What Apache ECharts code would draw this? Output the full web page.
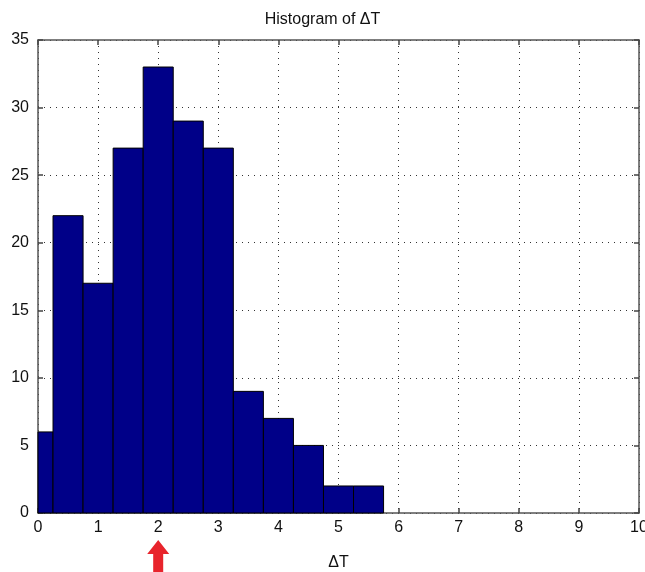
<!DOCTYPE html>
<html><head><meta charset="utf-8">
<script src="https://cdn.jsdelivr.net/npm/echarts@6/dist/echarts.min.js"></script>
<style>html,body{margin:0;padding:0;background:#fff}#c{width:645px;height:572px}</style>
</head><body><div id="c"></div>
<script>
const binCenters = [0, 0.5, 1.0, 1.5, 2.0, 2.5, 3.0, 3.5, 4.0, 4.5, 5.0, 5.5];
const counts = [6, 22, 17, 27, 33, 29, 27, 9, 7, 5, 2, 2];
const binWidth = 0.5;
const arrowAt = 2;
const titleText = 'Histogram of ΔT';
const xName = 'ΔT';

const font = "'Liberation Sans Narrow', 'Liberation Sans', Arial, sans-serif";
const chart = echarts.init(document.getElementById('c'), null, {renderer: 'canvas'});
const grid = {left: 38, right: 6, top: 40, bottom: 59, containLabel: false, outerBoundsMode: 'none'};
const dotted = {show: true, lineStyle: {color: '#333', type: [1, 5], width: 1}};
const tickStyle = {show: true, inside: true, length: 5, lineStyle: {color: '#444', width: 1.5}};
const lineStyle = {show: true, onZero: false, lineStyle: {color: '#555', width: 1.5}};
const labelStyle = {color: '#111', fontSize: 16, fontFamily: font};

chart.setOption({
  animation: false,
  backgroundColor: '#fff',
  title: {text: titleText, left: 'center', top: 7, textStyle: {fontSize: 16, fontWeight: 'normal', color: '#111', fontFamily: font}},
  grid: grid,
  xAxis: [
    {type: 'value', min: 0, max: 10, interval: 1, position: 'bottom',
     name: xName, nameLocation: 'middle', nameGap: 42, nameTextStyle: labelStyle,
     axisLine: lineStyle, axisTick: tickStyle, splitLine: dotted,
     axisLabel: Object.assign({margin: 7}, labelStyle)},
    {type: 'value', min: 0, max: 10, interval: 1, position: 'top',
     axisLine: lineStyle, axisTick: tickStyle, splitLine: {show: false}, axisLabel: {show: false}}
  ],
  yAxis: [
    {type: 'value', min: 0, max: 35, interval: 5, position: 'left',
     axisLine: lineStyle, axisTick: tickStyle, splitLine: dotted,
     axisLabel: Object.assign({margin: 9}, labelStyle)},
    {type: 'value', min: 0, max: 35, interval: 5, position: 'right',
     axisLine: lineStyle, axisTick: tickStyle, splitLine: {show: false}, axisLabel: {show: false}}
  ],
  series: [{
    type: 'custom',
    xAxisIndex: 0, yAxisIndex: 0,
    data: binCenters.map((c, i) => [c, counts[i]]),
    renderItem: function (params, api) {
      const x = api.value(0), y = api.value(1);
      const p0 = api.coord([x - binWidth / 2, y]);
      const p1 = api.coord([x + binWidth / 2, 0]);
      const cs = params.coordSys;
      const rect = echarts.graphic.clipRectByRect(
        {x: p0[0], y: p0[1], width: p1[0] - p0[0], height: p1[1] - p0[1]},
        {x: cs.x, y: cs.y, width: cs.width, height: cs.height});
      return rect && {type: 'rect', shape: rect, style: {fill: '#000088', stroke: '#000', lineWidth: 1}};
    },
    z: 1
  }]
});

const ax = chart.convertToPixel({xAxisIndex: 0}, arrowAt);
chart.setOption({
  graphic: [{
    type: 'polygon',
    shape: {points: [[ax, 540], [ax + 11, 554], [ax + 5, 554], [ax + 5, 572], [ax - 5, 572], [ax - 5, 554], [ax - 11, 554]]},
    style: {fill: '#e8242c'}
  }]
});
</script></body></html>
